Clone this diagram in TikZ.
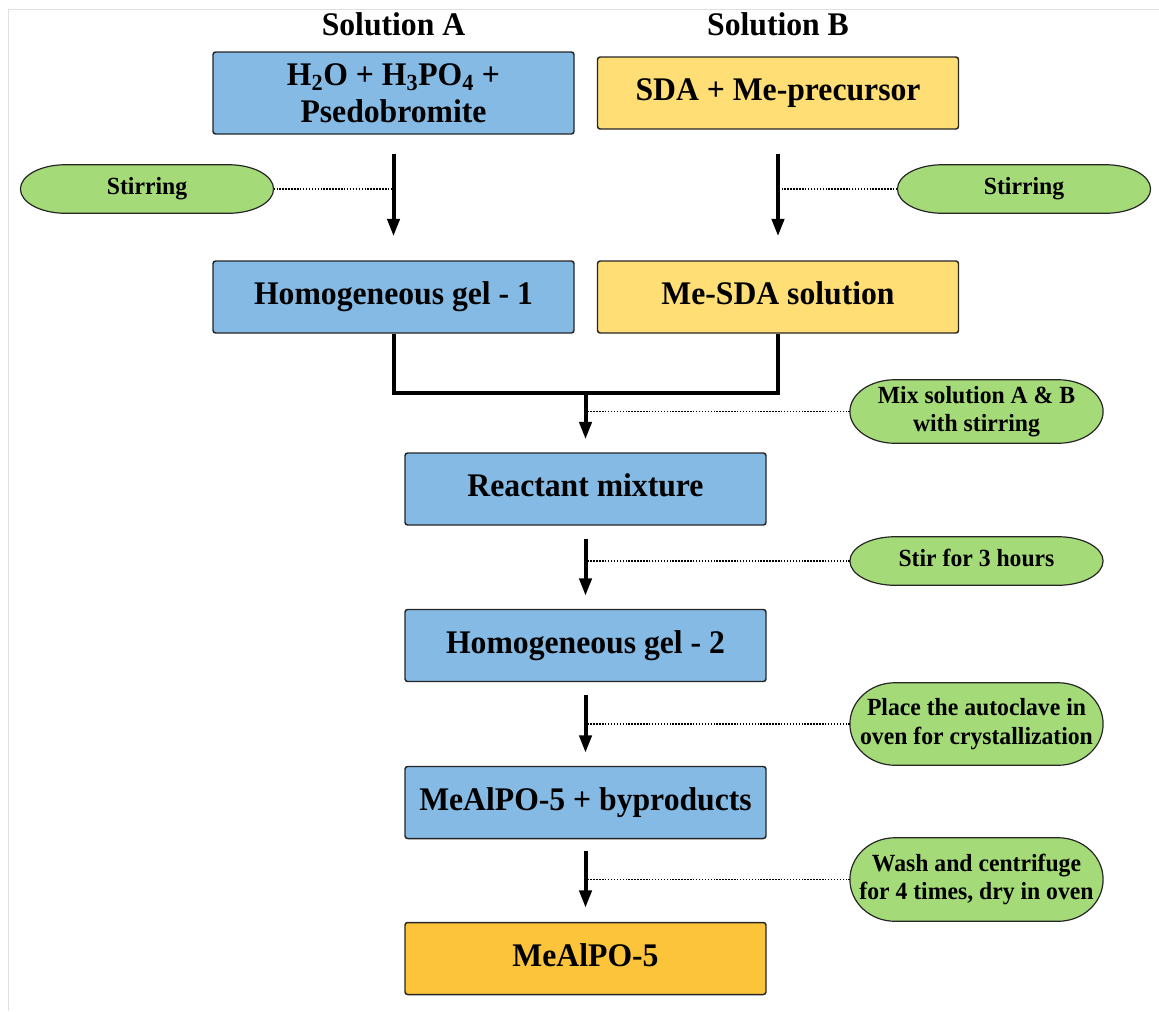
\documentclass[tikz,border=0pt]{standalone}
\usepackage{fontspec}
\setmainfont{Liberation Serif}[FakeStretch=0.96]
\usetikzlibrary{arrows.meta,calc,backgrounds}
\definecolor{boxblue}{RGB}{132,186,228}
\definecolor{boxyellow}{RGB}{255,222,117}
\definecolor{boxorange}{RGB}{251,196,58}
\definecolor{notegreen}{RGB}{165,218,121}

\begin{document}
\begin{tikzpicture}[x=0.75pt,y=0.75pt,yscale=-1,xscale=1,
    stepbox/.style={draw=black!85, line width=1.1pt, rounded corners=2pt, minimum width=270.75pt, minimum height=54pt, align=center, inner sep=2pt, font=\bfseries\fontsize{24.75}{27.5}\selectfont},
    note/.style={minimum width=189.5pt, minimum height=#1, align=center, inner sep=0pt, font=\bfseries\fontsize{18.5}{21.3}\selectfont},
    boxline/.style={text height=17.3pt, text depth=5.45pt},
    noteline/.style={text height=12.95pt, text depth=4.07pt},
    noteshape/.style={draw=black!85, line width=0.9pt, fill=notegreen},
    flow/.style={line width=3pt, -{Triangle[length=13pt,width=9pt]}},
    dotline/.style={line width=1.1pt, dash pattern=on 1.1pt off 1.1pt}]
    	\useasboundingbox (0,0) rectangle (1159,1011);
    	\draw [black!12, line width=0.75pt] (8,1011) |- (1159,9);
		% solution titles
		\node [font=\bfseries\fontsize{24.75}{27.5}\selectfont] (ta) at (393.5,24) {Solution A};
		\node [font=\bfseries\fontsize{24.75}{27.5}\selectfont] (tb) at (778,24) {Solution B};
		% boxes
		\node [stepbox, fill=boxblue, minimum height=61.5pt] (a1) at (393.5,93) {H\textsubscript{2}O + H\textsubscript{3}PO\textsubscript{4} +\\Psedobromite};
		\node [stepbox, boxline, fill=boxyellow] (b1) at (778,93) {SDA + Me-precursor};
		\node [stepbox, boxline, fill=boxblue] (a2) at (393.5,297) {Homogeneous gel - 1};
		\node [stepbox, boxline, fill=boxyellow] (b2) at (778,297) {Me-SDA solution};
		\node [stepbox, boxline, fill=boxblue] (rm) at (585.5,489) {Reactant mixture};
		\node [stepbox, boxline, fill=boxblue] (g2) at (585.5,645.5) {Homogeneous gel - 2};
		\node [stepbox, boxline, fill=boxblue] (bp) at (585.5,802.5) {MeAlPO-5 + byproducts};
		\node [stepbox, boxline, fill=boxorange] (fin) at (585.5,958.5) {MeAlPO-5};
		% notes
		\node [note=36pt, noteline] (s1) at (147,189) {Stirring};
		\node [note=36pt, noteline] (s2) at (1024,189) {Stirring};
		\node [note=47.25pt] (mx) at (976.5,411.5) {Mix solution A \& B\\with stirring};
		\node [note=36pt, noteline] (s3) at (976.5,561) {Stir for 3 hours};
		\node [note=61.5pt] (ov) at (976.5,724) {Place the autoclave in\\oven for crystallization};
		\node [note=62.25pt] (wc) at (976.5,879.5) {Wash and centrifuge\\for 4 times, dry in oven};
		% oval outlines behind the notes
		\begin{pgfonlayer}{background}
		\foreach \n in {s1,s2,mx,s3,ov,wc}
			\draw [noteshape] ([xshift=-33.75pt]\n.north east) .. controls ($([xshift=-33.75pt]\n.north east)!0.5523!(\n.north east)$) and ($(\n.east)!0.5523!(\n.north east)$) .. (\n.east)
				.. controls ($(\n.east)!0.5523!(\n.south east)$) and ($([xshift=-33.75pt]\n.south east)!0.5523!(\n.south east)$) .. ([xshift=-33.75pt]\n.south east)
				-- ([xshift=33.75pt]\n.south west) .. controls ($([xshift=33.75pt]\n.south west)!0.5523!(\n.south west)$) and ($(\n.west)!0.5523!(\n.south west)$) .. (\n.west)
				.. controls ($(\n.west)!0.5523!(\n.north west)$) and ($([xshift=33.75pt]\n.north west)!0.5523!(\n.north west)$) .. ([xshift=33.75pt]\n.north west) -- cycle;
		\end{pgfonlayer}
		% arrows
		\draw [flow, shorten <=14.25pt, shorten >=18pt] (a1) -- (a2);
		\draw [flow, shorten <=18pt, shorten >=18pt] (b1) -- (b2);
		\coordinate (mix) at (585.5,393);
		\draw [line width=3pt] (a2.south) |- (mix) -| (b2.south);
		\draw [flow, shorten >=9.75pt] (mix) -- (rm.north);
		\draw [flow, shorten <=9.75pt, shorten >=9.75pt] (rm) -- (g2);
		\draw [flow, shorten <=9.75pt, shorten >=9.75pt] (g2) -- (bp);
		\draw [flow, shorten <=9pt, shorten >=10.5pt] (bp) -- (fin);
		% dotted leaders
		\draw [dotline] (s1.east) -- (s1.east -| a1.south);
		\draw [dotline] (s2.west) -- (s2.west -| b1.south);
		\draw [dotline] (mx.west) -- (mx.west -| rm.north);
		\draw [dotline] (s3.west) -- (s3.west -| rm.south);
		\draw [dotline] (ov.west) -- (ov.west -| g2.south);
		\draw [dotline] (wc.west) -- (wc.west -| bp.south);
	\end{tikzpicture}
\end{document}
